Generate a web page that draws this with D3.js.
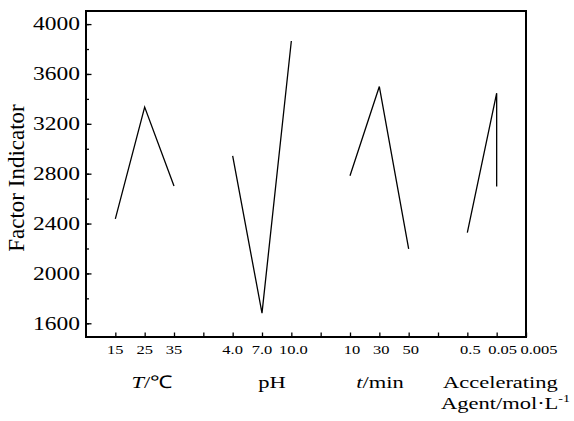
<!DOCTYPE html>
<html>
<head>
<meta charset="utf-8">
<script src="https://d3js.org/d3.v7.min.js"></script>
<style>
  body { margin: 0; background: #fff; }
  text { font-family: "Liberation Serif", "Times New Roman", serif; fill: #000; }
</style>
</head>
<body>
<svg id="frame"></svg>
<script>
  // factor levels and the indicator mean at each level
  var factorNames = ["T", "pH", "t", "Accelerating"];
  var levelLabels = [["15", "25", "35"], ["4.0", "7.0", "10.0"], ["10", "30", "50"], ["0.5", "0.05", "0.005"]];
  var levelValues = [[2437, 3334, 2702], [2943, 1681, 3864], [2783, 3499, 2197], [2328, 3446, 2697]];
  // category slot of each level along the x axis (last point sits on the 0.05 slot in the original)
  var levelSlots = [[1, 2, 3], [5, 6, 7], [9, 10, 11], [13, 14, 14]];
  var labelSlots = [[1, 2, 3], [5, 6, 7], [9, 10, 11], [13, 14, 15]];
  var yTicks = [1600, 2000, 2400, 2800, 3200, 3600, 4000];

  var width = 574, height = 421;
  var margin = {top: 11, right: 48, bottom: 84, left: 86};
  var squash = 0.78; // horizontal text in the original is vertically compressed

  var svg = d3.select('#frame').attr('width', width).attr('height', height);

  var x = d3.scaleLinear().domain([0, 15]).range([margin.left, width - margin.right]);
  var y = d3.scaleLinear().domain([1490, 4105]).range([height - margin.bottom, margin.top]);

  // minor ticks
  svg.append('g')
    .attr('transform', 'translate(' + margin.left + ',0)')
    .call(d3.axisLeft(y).tickValues(d3.range(1600, 4001, 200)).tickSize(-3).tickSizeOuter(0).tickFormat(''))
    .call(function(g){ g.select('.domain').remove(); })
    .selectAll('line').attr('stroke-width', 1.3);

  // major y ticks with labels
  var yAxis = svg.append('g')
    .attr('transform', 'translate(' + margin.left + ',0)')
    .call(d3.axisLeft(y).tickValues(yTicks).tickSize(-5.5).tickSizeOuter(0).tickPadding(6).tickFormat(d3.format('d')));
  yAxis.select('.domain').remove();
  yAxis.selectAll('line').attr('stroke-width', 1.3);
  yAxis.selectAll('text')
    .attr('font-size', 23.5)
    .attr('font-family', '"Liberation Serif", serif')
    .attr('transform', 'scale(1,' + squash + ')');

  // x ticks (inward)
  var xAxis = svg.append('g')
    .attr('transform', 'translate(0,' + y.range()[0] + ')')
    .call(d3.axisBottom(x).tickValues(d3.range(1, 16)).tickSize(-4.5).tickSizeOuter(0).tickFormat(''));
  xAxis.select('.domain').remove();
  xAxis.selectAll('line').attr('stroke-width', 1.3);

  // frame
  svg.append('rect')
    .attr('x', x.range()[0]).attr('y', y.range()[1])
    .attr('width', x.range()[1] - x.range()[0])
    .attr('height', y.range()[0] - y.range()[1])
    .attr('fill', 'none').attr('stroke', '#000').attr('stroke-width', 2);

  // level tick labels
  var nudge = [[0, 0, 0], [0, 0, 2], [2, 2, 2], [3, 6, 13]];
  levelLabels.forEach(function(labels, gi){
    labels.forEach(function(lab, j){
      svg.append('text')
        .attr('transform', 'translate(' + (x(labelSlots[gi][j]) + nudge[gi][j]) + ',354) scale(1,' + squash + ')')
        .attr('text-anchor', 'middle')
        .attr('font-size', 16.5)
        .text(lab);
    });
  });

  // lines, one per factor
  var line = d3.line()
    .x(function(d){ return x(d[0]); })
    .y(function(d){ return y(d[1]); });

  levelValues.forEach(function(vals, gi){
    var pts = vals.map(function(v, j){ return [levelSlots[gi][j], v]; });
    svg.append('path')
      .attr('d', line(pts))
      .attr('fill', 'none')
      .attr('stroke', '#000')
      .attr('stroke-width', 1.3);
  });

  // factor titles
  function title(xPos, yPos, anchor){
    return svg.append('text')
      .attr('transform', 'translate(' + xPos + ',' + yPos + ') scale(1,' + squash + ')')
      .attr('text-anchor', anchor)
      .attr('font-size', 22.5);
  }
  var t1 = title(152, 388, 'middle');
  t1.append('tspan').attr('font-style', 'italic').text(factorNames[0]);
  t1.append('tspan').text('/\u2103');

  title(272, 388, 'middle').text(factorNames[1]);

  var t3 = title(380, 388, 'middle');
  t3.append('tspan').attr('font-style', 'italic').text(factorNames[2]);
  t3.append('tspan').text('/min');

  title(443, 388, 'start').text(factorNames[3]);
  var t4 = title(441, 409, 'start');
  t4.append('tspan').text('Agent/mol\u00b7L');
  t4.append('tspan').attr('font-size', 14).attr('dy', -9).text('-1');

  // y axis title
  svg.append('text')
    .attr('transform', 'translate(24,' + ((y.range()[0] + y.range()[1]) / 2 + 4) + ') rotate(-90)')
    .attr('text-anchor', 'middle')
    .attr('font-size', 23)
    .text('Factor Indicator');
</script>
</body>
</html>
